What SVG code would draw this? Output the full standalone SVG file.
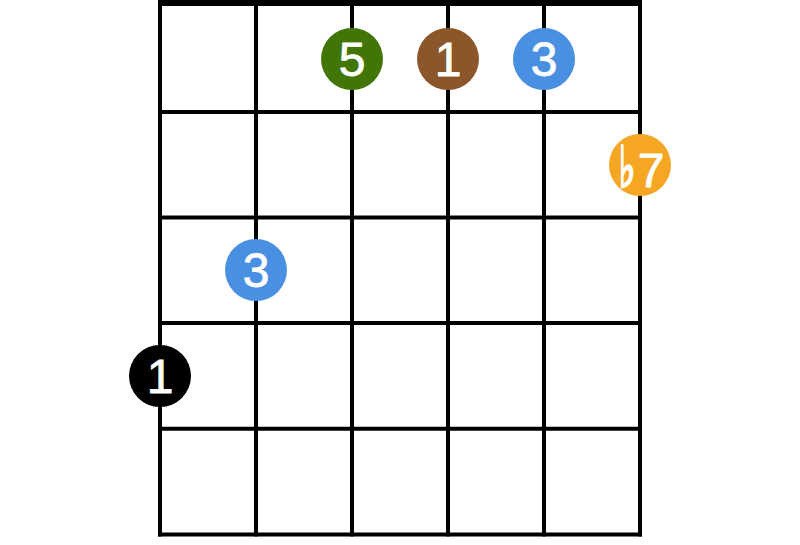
<svg xmlns="http://www.w3.org/2000/svg" width="800" height="545" viewBox="0 0 800 545">
<style>
.ln{stroke:#000;stroke-width:4;fill:none;stroke-linecap:square}
.nut{stroke:#000;stroke-width:6;fill:none}
.lbl{fill:#fff;stroke:#fff;stroke-width:0.8;font-family:"Liberation Sans","DejaVu Sans",Arial,sans-serif;font-size:48px;text-anchor:middle}
.flat{font-family:"DejaVu Sans",sans-serif;font-size:44px;stroke-width:2}
</style>
<rect width="800" height="545" fill="#fff"/>
<g id="grid">
<line class="nut" x1="158" y1="3" x2="642" y2="3"/>
<line class="ln" x1="160" y1="112" x2="640" y2="112"/>
<line class="ln" x1="160" y1="217.5" x2="640" y2="217.5"/>
<line class="ln" x1="160" y1="323" x2="640" y2="323"/>
<line class="ln" x1="160" y1="428.7" x2="640" y2="428.7"/>
<line class="ln" x1="160" y1="534.5" x2="640" y2="534.5"/>
<line class="ln" x1="160" y1="3" x2="160" y2="534.5"/>
<line class="ln" x1="256" y1="3" x2="256" y2="534.5"/>
<line class="ln" x1="352" y1="3" x2="352" y2="534.5"/>
<line class="ln" x1="448" y1="3" x2="448" y2="534.5"/>
<line class="ln" x1="544" y1="3" x2="544" y2="534.5"/>
<line class="ln" x1="640" y1="3" x2="640" y2="534.5"/>
</g>
<g id="n-5"><circle cx="352" cy="59" r="31" fill="#417505"/><text class="lbl" x="352" y="76.3">5</text></g>
<g id="n-1top"><circle cx="448" cy="59" r="31" fill="#8b572a"/><text class="lbl" x="448" y="76.3">1</text></g>
<g id="n-3top"><circle cx="544" cy="59" r="31" fill="#4a90e2"/><text class="lbl" x="544" y="76.3">3</text></g>
<g id="n-b7"><circle cx="640" cy="165" r="31" fill="#f5a623"/><text class="lbl flat" transform="translate(627,187) scale(0.8,1.3)">♭</text><text class="lbl" x="651" y="187" font-size="46">7</text></g>
<g id="n-3"><circle cx="256" cy="270" r="31" fill="#4a90e2"/><text class="lbl" x="256" y="287.3">3</text></g>
<g id="n-1"><circle cx="160" cy="376" r="31" fill="#000"/><text class="lbl" x="160" y="393.3">1</text></g>
</svg>
